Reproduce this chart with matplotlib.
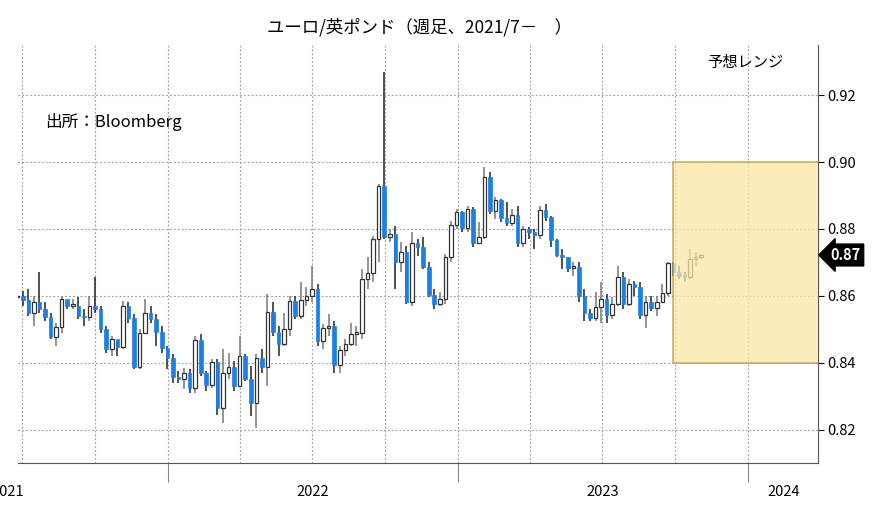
import numpy as np
import pandas as pd
import matplotlib.pyplot as plt
import matplotlib.dates as mdates
from matplotlib.patches import Rectangle

plt.rcParams["font.family"] = ["Noto Sans CJK JP", "DejaVu Sans"]

# weekly EUR/GBP candles
start_date = "2021-06-25"
opens = [0.8595, 0.8600, 0.8588, 0.8550, 0.8580, 0.8560, 0.8537, 0.8477, 0.8507, 0.8590,
         0.8570, 0.8570, 0.8540, 0.8537, 0.8570, 0.8560, 0.8500, 0.8440, 0.8470, 0.8448,
         0.8570, 0.8534, 0.8388, 0.8490, 0.8550, 0.8530, 0.8493, 0.8445, 0.8415, 0.8358,
         0.8350, 0.8370, 0.8325, 0.8469, 0.8370, 0.8334, 0.8403, 0.8263, 0.8370, 0.8388,
         0.8331, 0.8421, 0.8350, 0.8278, 0.8415, 0.8388, 0.8552, 0.8493, 0.8457, 0.8500,
         0.8585, 0.8540, 0.8588, 0.8600, 0.8620, 0.8466, 0.8504, 0.8510, 0.8394, 0.8439,
         0.8457, 0.8487, 0.8490, 0.8650, 0.8669, 0.8770, 0.8928, 0.8776, 0.8785, 0.8702,
         0.8730, 0.8582, 0.8758, 0.8747, 0.8687, 0.8603, 0.8576, 0.8591, 0.8716, 0.8812,
         0.8850, 0.8803, 0.8860, 0.8758, 0.8776, 0.8955, 0.8854, 0.8887, 0.8833, 0.8818,
         0.8842, 0.8758, 0.8800, 0.8790, 0.8782, 0.8857, 0.8836, 0.8767, 0.8722, 0.8716,
         0.8684, 0.8687, 0.8600, 0.8549, 0.8534, 0.8567, 0.8591, 0.8543, 0.8576, 0.8657,
         0.8576, 0.8636, 0.8627, 0.8543, 0.8582, 0.8564, 0.8582, 0.8609, 0.8699, 0.8672,
         0.8660, 0.8657, 0.8711, 0.8716]
closes = [0.8600, 0.8588, 0.8550, 0.8580, 0.8560, 0.8537, 0.8477, 0.8507, 0.8590, 0.8570,
          0.8570, 0.8540, 0.8537, 0.8570, 0.8560, 0.8500, 0.8440, 0.8470, 0.8448, 0.8570,
          0.8534, 0.8388, 0.8490, 0.8550, 0.8530, 0.8493, 0.8445, 0.8415, 0.8358, 0.8350,
          0.8370, 0.8325, 0.8469, 0.8370, 0.8334, 0.8403, 0.8263, 0.8370, 0.8388, 0.8331,
          0.8421, 0.8350, 0.8278, 0.8415, 0.8388, 0.8552, 0.8493, 0.8457, 0.8500, 0.8585,
          0.8540, 0.8588, 0.8600, 0.8620, 0.8466, 0.8504, 0.8510, 0.8394, 0.8439, 0.8457,
          0.8487, 0.8490, 0.8650, 0.8669, 0.8770, 0.8928, 0.8776, 0.8785, 0.8702, 0.8730,
          0.8582, 0.8758, 0.8747, 0.8687, 0.8603, 0.8576, 0.8591, 0.8716, 0.8812, 0.8850,
          0.8803, 0.8860, 0.8758, 0.8776, 0.8955, 0.8854, 0.8887, 0.8833, 0.8818, 0.8842,
          0.8758, 0.8800, 0.8790, 0.8782, 0.8857, 0.8836, 0.8767, 0.8722, 0.8716, 0.8684,
          0.8687, 0.8600, 0.8549, 0.8534, 0.8567, 0.8591, 0.8543, 0.8576, 0.8657, 0.8576,
          0.8636, 0.8627, 0.8543, 0.8582, 0.8564, 0.8582, 0.8609, 0.8699, 0.8672, 0.8660,
          0.8657, 0.8711, 0.8716, 0.8722]
highs = [0.8625, 0.8615, 0.8620, 0.8600, 0.8670, 0.8580, 0.8550, 0.8520, 0.8600, 0.8585,
         0.8590, 0.8595, 0.8560, 0.8600, 0.8655, 0.8570, 0.8510, 0.8480, 0.8465, 0.8585,
         0.8580, 0.8545, 0.8500, 0.8590, 0.8570, 0.8545, 0.8510, 0.8450, 0.8425, 0.8375,
         0.8385, 0.8380, 0.8480, 0.8485, 0.8375, 0.8410, 0.8410, 0.8440, 0.8430, 0.8405,
         0.8480, 0.8425, 0.8390, 0.8425, 0.8440, 0.8605, 0.8580, 0.8510, 0.8550, 0.8600,
         0.8600, 0.8640, 0.8625, 0.8690, 0.8635, 0.8515, 0.8545, 0.8525, 0.8450, 0.8470,
         0.8520, 0.8510, 0.8680, 0.8715, 0.8780, 0.8935, 0.9270, 0.8800, 0.8810, 0.8760,
         0.8750, 0.8790, 0.8770, 0.8775, 0.8700, 0.8620, 0.8610, 0.8725, 0.8825, 0.8860,
         0.8855, 0.8870, 0.8865, 0.8820, 0.8985, 0.8970, 0.8895, 0.8890, 0.8880, 0.8860,
         0.8870, 0.8810, 0.8805, 0.8800, 0.8870, 0.8875, 0.8840, 0.8770, 0.8740, 0.8715,
         0.8700, 0.8700, 0.8620, 0.8560, 0.8610, 0.8640, 0.8605, 0.8595, 0.8690, 0.8670,
         0.8650, 0.8645, 0.8640, 0.8600, 0.8600, 0.8600, 0.8635, 0.8700, 0.8700, 0.8690,
         0.8670, 0.8740, 0.8730, 0.8725]
lows = [0.8555, 0.8570, 0.8540, 0.8510, 0.8550, 0.8525, 0.8470, 0.8450, 0.8490, 0.8560,
        0.8560, 0.8530, 0.8510, 0.8525, 0.8550, 0.8490, 0.8430, 0.8420, 0.8420, 0.8440,
        0.8520, 0.8380, 0.8380, 0.8485, 0.8520, 0.8450, 0.8430, 0.8380, 0.8340, 0.8340,
        0.8320, 0.8310, 0.8310, 0.8360, 0.8315, 0.8325, 0.8245, 0.8220, 0.8350, 0.8315,
        0.8330, 0.8345, 0.8240, 0.8205, 0.8370, 0.8330, 0.8480, 0.8420, 0.8450, 0.8480,
        0.8530, 0.8530, 0.8570, 0.8580, 0.8450, 0.8440, 0.8480, 0.8370, 0.8370, 0.8420,
        0.8450, 0.8450, 0.8470, 0.8620, 0.8640, 0.8700, 0.8770, 0.8760, 0.8620, 0.8670,
        0.8575, 0.8570, 0.8720, 0.8680, 0.8595, 0.8560, 0.8570, 0.8575, 0.8700, 0.8800,
        0.8790, 0.8790, 0.8745, 0.8760, 0.8770, 0.8845, 0.8830, 0.8820, 0.8810, 0.8810,
        0.8745, 0.8745, 0.8770, 0.8740, 0.8770, 0.8825, 0.8745, 0.8715, 0.8680, 0.8670,
        0.8660, 0.8580, 0.8525, 0.8525, 0.8525, 0.8520, 0.8520, 0.8530, 0.8570, 0.8560,
        0.8570, 0.8600, 0.8530, 0.8505, 0.8555, 0.8540, 0.8580, 0.8600, 0.8660, 0.8650,
        0.8640, 0.8650, 0.8690, 0.8710]

forecast_low, forecast_high = 0.84, 0.90
forecast_start, forecast_end = "2023-09-29", "2024-04-05"
last_label = "0.87"

dates = pd.date_range(start_date, periods=len(closes), freq="7D")
x = mdates.date2num(dates)
o = np.array(opens)
c = np.array(closes)
up = c >= o

fig = plt.figure(figsize=(8.78, 5.08), dpi=100)
ax = fig.add_axes([18 / 878, 1 - 463 / 508, 800 / 878, 418 / 508])

blue = "#1a7fe6"
ax.vlines(x[up], np.array(lows)[up], np.array(highs)[up], color="#777777", lw=1.1, zorder=2)
ax.vlines(x[~up], np.array(lows)[~up], np.array(highs)[~up], color="#222222", lw=1.1, zorder=2)
body = np.maximum(np.abs(c - o), 0.0004)
ax.bar(x[up], body[up], bottom=np.minimum(o, c)[up], width=4.5,
       color="white", edgecolor="#333333", lw=0.9, zorder=3)
ax.bar(x[~up], body[~up], bottom=np.minimum(o, c)[~up], width=4.5,
       color=blue, edgecolor=blue, lw=0.5, zorder=3)

# forecast range box
fs = mdates.datestr2num(forecast_start)
fe = mdates.datestr2num(forecast_end)
ax.add_patch(Rectangle((fs, forecast_low), fe - fs, forecast_high - forecast_low,
                       facecolor="#fde7a6", alpha=0.75, edgecolor="#b8993c", lw=1.2, zorder=4))

ax.set_xlim(mdates.datestr2num("2021-06-26"), mdates.datestr2num("2024-03-29"))
ax.set_ylim(0.81, 0.935)

ax.yaxis.tick_right()
ax.set_yticks([0.82, 0.84, 0.86, 0.88, 0.90, 0.92])
ax.set_yticklabels(["0.82", "0.84", "0.86", "0.88", "0.90", "0.92"], fontsize=10.5)
ax.tick_params(axis="y", length=4, pad=3)

# quarterly vertical grid
qgrid = pd.date_range("2021-07-01", "2024-01-01", freq="QS")
for d in qgrid:
    ax.axvline(mdates.date2num(d), color="#999999", ls=(0, (1.5, 2)), lw=0.8, zorder=1)
for yv in [0.82, 0.84, 0.86, 0.88, 0.90, 0.92]:
    ax.axhline(yv, color="#999999", ls=(0, (1.5, 2)), lw=0.8, zorder=1)

# year labels below axis
ax.set_xticks([mdates.datestr2num(d) for d in ["2022-01-01", "2023-01-01", "2024-01-01"]])
ax.set_xticklabels([])
ax.tick_params(axis="x", length=14, color="#888888")
for yr, d in [("2021", "2021-06-13"), ("2022", "2022-07-02"), ("2023", "2023-07-02"), ("2024", "2024-02-15")]:
    ax.text(mdates.datestr2num(d), -0.07, yr, transform=ax.get_xaxis_transform(),
            ha="center", va="center", fontsize=10.5, clip_on=False)

for s in ["top", "left"]:
    ax.spines[s].set_visible(False)
ax.spines["right"].set_color("#555555")
ax.spines["bottom"].set_color("#555555")

# last value tag
ax.annotate(last_label, xy=(1.0, closes[-1]), xycoords=("axes fraction", "data"),
            xytext=(9, 0), textcoords="offset points", ha="left", va="center",
            color="white", fontsize=10.5, fontweight="bold",
            bbox=dict(boxstyle="larrow,pad=0.2", fc="black", ec="black"))

fig.text(420 / 878, 1 - 27 / 508, "ユーロ/英ポンド（週足、2021/7－　）", ha="center", va="center", fontsize=12.5)
fig.text(45 / 878, 1 - 122 / 508, "出所：Bloomberg", ha="left", va="center", fontsize=12)
fig.text(745 / 878, 1 - 62 / 508, "予想レンジ", ha="center", va="center", fontsize=11)

fig.savefig("out.png", dpi=100)
